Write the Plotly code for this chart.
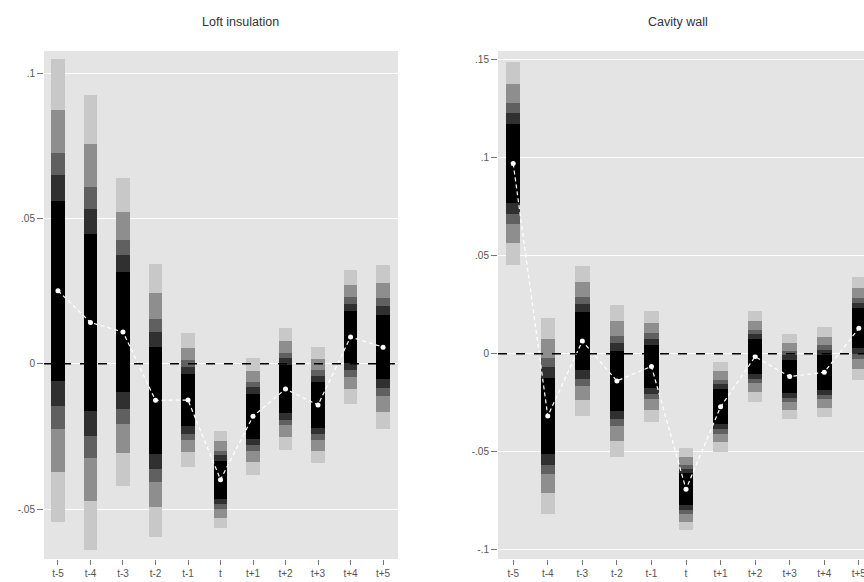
import plotly.graph_objects as go

# ---- data ----
periods = ["t-5", "t-4", "t-3", "t-2", "t-1", "t", "t+1", "t+2", "t+3", "t+4", "t+5"]

loft_est = [0.0251, 0.0142, 0.0109, -0.0126, -0.0125, -0.0399, -0.0181, -0.0087, -0.0142, 0.0092, 0.0057]
loft_se = [0.0242, 0.0238, 0.0161, 0.0143, 0.0070, 0.0051, 0.0061, 0.0064, 0.0061, 0.0070, 0.0086]

cavity_est = [0.0970, -0.0317, 0.0065, -0.0138, -0.0064, -0.0690, -0.0270, -0.0014, -0.0116, -0.0094, 0.0130]
cavity_se = [0.0157, 0.0152, 0.0116, 0.0118, 0.0086, 0.0064, 0.0070, 0.0070, 0.0066, 0.0070, 0.0080]

ci_levels = [99.9, 99, 95, 90, 80]
z_values = [3.291, 2.576, 1.960, 1.645, 1.282]
band_colors = ["#c8c8c8", "#8e8e8e", "#606060", "#303030", "#000000"]

loft_ticks = [-0.05, 0, 0.05, 0.1]
loft_ticktext = ["-.05", "0", ".05", ".1"]
cavity_ticks = [-0.1, -0.05, 0, 0.05, 0.1, 0.15]
cavity_ticktext = ["-.1", "-.05", "0", ".05", ".1", ".15"]

titles = ["Loft insulation", "Cavity wall"]

# ---- figure ----
fig = go.Figure()

panels = [
    (loft_est, loft_se, "x", "y"),
    (cavity_est, cavity_se, "x2", "y2"),
]

for est, se, xa, ya in panels:
    for lvl, z, col in zip(ci_levels, z_values, band_colors):
        lo = [e - z * s for e, s in zip(est, se)]
        hi = [e + z * s for e, s in zip(est, se)]
        fig.add_trace(go.Bar(
            x=periods, y=[h - l for h, l in zip(hi, lo)], base=lo,
            width=0.42, marker=dict(color=col, line=dict(width=0)),
            name=f"{lvl}%", xaxis=xa, yaxis=ya, showlegend=False,
            hoverinfo="skip",
        ))
    fig.add_trace(go.Scatter(
        x=periods, y=est, mode="lines+markers",
        line=dict(color="white", width=1.2, dash="4px,3px"),
        marker=dict(color="white", size=5),
        xaxis=xa, yaxis=ya, showlegend=False,
    ))

tick_font = dict(family="Liberation Sans, Arial, sans-serif", size=10, color="#555555")

common_x = dict(
    type="category", showgrid=False, zeroline=False, showline=False,
    ticks="outside", ticklen=5, tickcolor="#777777", tickwidth=1,
    tickfont=tick_font, automargin=False, fixedrange=True,
)
common_y = dict(
    showgrid=True, gridcolor="white", gridwidth=1.2, zeroline=False,
    showline=False, ticks="outside", ticklen=6, tickcolor="#777777",
    tickwidth=1, tickfont=tick_font, automargin=False,
)

y_dom = [1 - 559 / 582, 1 - 51 / 582]

fig.update_layout(
    width=864, height=582,
    margin=dict(l=0, r=0, t=0, b=0),
    paper_bgcolor="white",
    plot_bgcolor="#e4e4e4",
    barmode="overlay",
    bargap=0,
    showlegend=False,
    xaxis=dict(common_x, domain=[44 / 864, 398 / 864], range=[-0.43, 10.46],
               anchor="y"),
    yaxis=dict(common_y, domain=y_dom, range=[-0.0672, 0.1076],
               tickvals=loft_ticks, ticktext=loft_ticktext, anchor="x"),
    xaxis2=dict(common_x, domain=[498 / 864, 1.0], range=[-0.44, 10.15],
                anchor="y2"),
    yaxis2=dict(common_y, domain=y_dom, range=[-0.1046, 0.1544],
                tickvals=cavity_ticks, ticktext=cavity_ticktext, anchor="x2"),
)

# zero reference lines
for xr, yr in [("x domain", "y"), ("x2 domain", "y2")]:
    fig.add_shape(type="line", xref=xr, yref=yr, x0=0, x1=1, y0=0, y1=0,
                  line=dict(color="black", width=1.5, dash="dash"), layer="above")

# panel titles
for txt, xc in zip(titles, [240 / 864, 678 / 864]):
    fig.add_annotation(text=txt, x=xc, y=1 - 22 / 582, xref="paper", yref="paper",
                       showarrow=False, xanchor="center", yanchor="middle",
                       font=dict(family="Liberation Sans, Arial, sans-serif",
                                 size=12.5, color="#333333"))

fig.write_html(
    "out.html",
    config={"displayModeBar": False},
    post_script="document.body.style.margin='0';document.body.style.overflow='hidden';",
)
